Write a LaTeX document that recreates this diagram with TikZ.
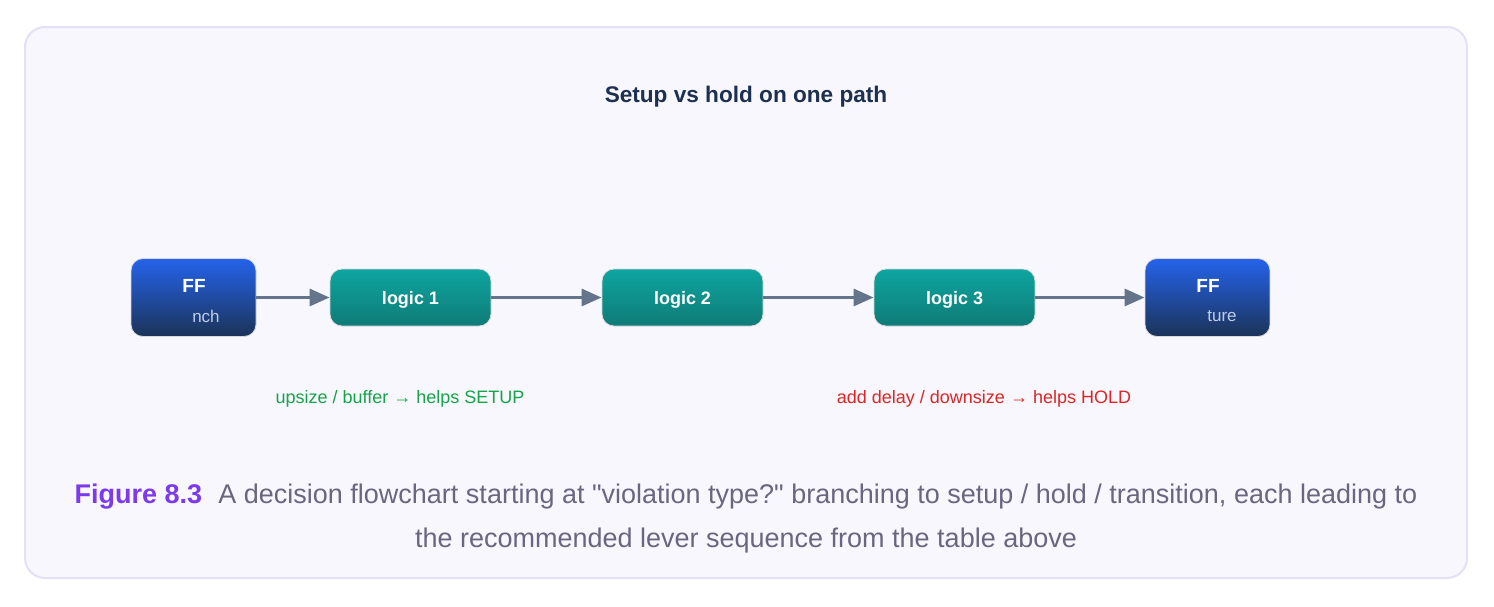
\documentclass[tikz,border=0pt]{standalone}
\usepackage{fontspec}
\setmainfont{Liberation Sans}[Ligatures=TeXOff]
\usepackage{tikz}
\usetikzlibrary{positioning,calc,arrows.meta}

\definecolor{cardbg}{HTML}{F8F7FE}
\definecolor{cardline}{HTML}{E4E0F5}
\definecolor{titlecol}{HTML}{1E3050}
\definecolor{fftop}{HTML}{2563EB}
\definecolor{ffbot}{HTML}{1B3358}
\definecolor{ffsub}{HTML}{BFCDEB}
\definecolor{lgtop}{HTML}{0EA5A0}
\definecolor{lgbot}{HTML}{0F7B77}
\definecolor{arrcol}{HTML}{64748B}
\definecolor{setupcol}{HTML}{16A34A}
\definecolor{holdcol}{HTML}{DC2626}
\definecolor{figcol}{HTML}{7C3AED}
\definecolor{capcol}{HTML}{6B6680}

\tikzset{
  ffbox/.style={draw=white!85!black, line width=0.8pt, rounded corners=12pt,
    top color=fftop, bottom color=ffbot, minimum width=125pt, minimum height=78pt},
  logicbox/.style={draw=white!85!black, line width=0.8pt, rounded corners=12pt,
    top color=lgtop, bottom color=lgbot, minimum width=161pt, minimum height=57pt,
    text depth=0pt, text=white, font=\fontsize{18}{22}\selectfont\bfseries},
  pathline/.style={draw=arrcol, line width=3pt, -{Triangle[length=20pt,width=17pt]}},
}

\begin{document}
\begin{tikzpicture}[x=1pt,y=-1pt]
  \useasboundingbox (0,0) rectangle (1494,606);
  \filldraw[fill=cardbg, draw=cardline, line width=2pt, rounded corners=20pt]
    (25,27) rectangle (1467,578);

  \node[text=titlecol, font=\fontsize{22.6}{26}\selectfont\bfseries] (title) at (746,97) {Setup vs hold on one path};

  \node[ffbox] (ffl) at (193.5,297.5) {};
  \node[text=white, font=\fontsize{19}{22}\selectfont\bfseries] (fflname) at (194,286) {FF};
  \node[text=ffsub, font=\fontsize{17}{20}\selectfont] (fflsub) at (206,316) {nch};

  \node[logicbox] (lg1) at (410.5,297.5) {logic 1};
  \node[logicbox] (lg2) at (682.5,297.5) {logic 2};
  \node[logicbox] (lg3) at (954.5,297.5) {logic 3};

  \node[ffbox] (ffr) at (1207.5,297.5) {};
  \node[text=white, font=\fontsize{19}{22}\selectfont\bfseries] (ffrname) at (1208,286) {FF};
  \node[text=ffsub, font=\fontsize{17}{20}\selectfont] (ffrsub) at (1222,316) {ture};

  \draw[pathline] (ffl) -- (lg1);
  \draw[pathline] (lg1) -- (lg2);
  \draw[pathline] (lg2) -- (lg3);
  \draw[pathline] (lg3) -- (ffr);

  \node[text=setupcol, font=\fontsize{18}{22}\selectfont] (setupfix) at (400,399) {upsize / buffer → helps SETUP};
  \node[text=holdcol, font=\fontsize{18}{22}\selectfont] (holdfix) at (984,399) {add delay / downsize → helps HOLD};

  \node[text=capcol, align=center, font=\fontsize{27}{44}\selectfont] (caption) at (746,519)
    {\textcolor{figcol}{\bfseries Figure 8.3}\hspace{0.6em}A decision flowchart starting at "violation type?" branching to setup / hold / transition, each leading to\\
     the recommended lever sequence from the table above};
\end{tikzpicture}
\end{document}
